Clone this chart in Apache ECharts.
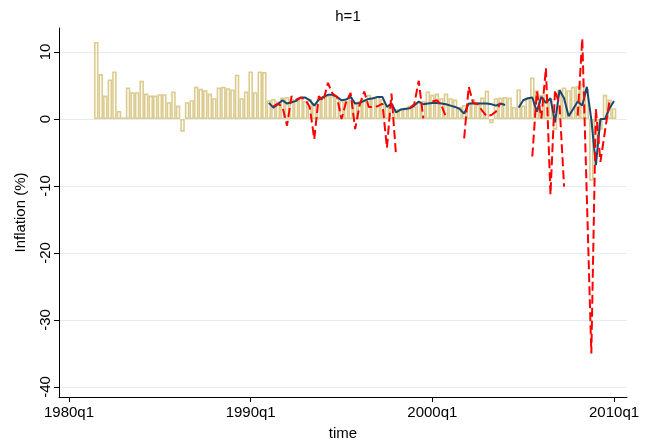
<!DOCTYPE html>
<html>
<head>
<meta charset="utf-8">
<script src="https://cdn.jsdelivr.net/npm/echarts@6/dist/echarts.min.js"></script>
<style>
  html, body { margin: 0; padding: 0; background: #fff; }
  #chart { width: 660px; height: 446px; }
</style>
</head>
<body>
<div id="chart"></div>
<script>
// time is counted in quarters since 1980q1 (0 = 1980q1)
const barStart = 6;   // 1981q3
const lineStart = 44; // 1991q1

// observed inflation, bars
const barValues = [
  11.5, 6.7, 3.5, 5.9, 7.1, 1.2, 0.25, 4.7, 4.0, 4.0,
  5.7, 3.8, 3.5, 3.5, 3.7, 3.7, 2.5, 4.1, 2.0, -1.9,
  2.5, 2.8, 4.8, 4.5, 4.3, 3.8, 3.1, 4.7, 4.8, 4.6,
  4.4, 6.6, 3.1, 4.1, 7.1, 4.0, 7.1, 7.0, 2.8, 3.0,
  2.6, 3.2, 3.3, 3.0, 2.8, 3.2, 2.7, 3.0, 2.3, 3.0,
  3.2, 3.5, 3.4, 3.1, 2.9, 2.7, 3.3, 2.5, 2.7, 3.0,
  3.6, 3.2, 3.4, 3.0, 2.2, 1.9, 1.5, 1.4, 1.7, 2.0,
  1.9, 2.5, 2.7, 4.1, 3.6, 3.8, 3.1, 3.8, 3.1, 2.9,
  1.8, 2.1, 2.4, 3.0, 2.5, 3.2, 4.2, -0.65, 3.1, 3.2,
  3.3, 3.2, 1.8, 4.4, 2.0, 3.1, 6.2, 4.3, 3.6, 3.7,
  3.0, -1.6, 4.4, 4.7, 4.3, 4.8, 4.9, 5.3, 4.5, -9.2,
  -4.1, -1.6, 3.6, 2.9, 1.6
];

// forecast h=1, solid navy line
const blueValues = [
  2.4, 1.7, 2.2, 2.8, 2.3, 2.5, 2.7, 3.2, 3.2, 2.8,
  2.0, 2.9, 3.3, 3.6, 3.6, 3.3, 2.8, 2.9, 3.3, 2.3,
  2.4, 2.7, 3.0, 3.1, 3.3, 3.3, 1.8, 2.3, 1.0, 1.4,
  1.5, 1.6, 2.0, 2.6, 2.2, 2.3, 2.4, 2.4, 2.3, 2.2,
  2.0, 1.8, 1.5, 0.8, 2.3, 2.3, 2.3, 2.3, 2.3, 2.2,
  2.0, 2.3, 2.1, null, null, 1.7, 2.8, 3.1, 3.2, 1.1,
  3.3, 2.4, 3.1, -0.5, 4.3, 3.1, 0.4, 1.5, 2.6, 2.0,
  4.8, -0.1, -6.9, 0.0, 0.0, 1.6, 2.7
];

// second forecast, red dashed line
const redValues = [
  null, 1.9, 2.3, 1.8, -1.0, 3.4, 2.9, 3.2, 2.9, 1.8,
  -3.0, 3.4, 2.7, 5.4, 3.8, 3.3, 0.0, 2.5, 3.9, -1.5,
  2.1, 4.1, 1.8, 1.8, 1.9, 2.3, -4.3, 3.8, -5.4, null,
  null, 1.6, 2.2, 5.7, 0.1, null, 2.6, 2.8, 2.0, 0.3,
  null, null, null, -2.9, 4.8, 2.4, 2.2, 1.2, 0.4, 0.6,
  1.1, 2.4, null, null, null, null, null, null, -5.6, 4.1,
  0.1, 7.6, -11.3, 4.3, 2.1, -10.1, null, null, 0.5, 12.0,
  -11.5, -35.0, 1.5, -6.4, -1.8, 2.7
];

const yTicks = [-40, -30, -20, -10, 0, 10];
const xTicks = [0, 40, 80, 120];

const toPairs = (start, arr) => arr.map((v, i) => [start + i, v]);
const quarterLabel = q => (1980 + Math.floor(q / 4)) + 'q' + (q % 4 + 1);

const chart = echarts.init(document.getElementById('chart'), null, { renderer: 'canvas' });
const font = 'Liberation Sans, Arial, sans-serif';

chart.setOption({
  animation: false,
  backgroundColor: '#fff',
  textStyle: { fontFamily: font },
  title: {
    text: 'h=1',
    left: 343,
    top: 4,
    textAlign: 'center',
    textStyle: { fontSize: 15, fontWeight: 'normal', color: '#000', fontFamily: font }
  },
  grid: { left: 59, right: 33, top: 28, bottom: 49, containLabel: false },
  xAxis: {
    type: 'value',
    min: -2.2,
    max: 122.85,
    name: 'time',
    nameLocation: 'middle',
    nameGap: 29,
    nameTextStyle: { fontSize: 15, color: '#000', fontFamily: font },
    axisLine: { show: true, onZero: false, lineStyle: { color: '#000', width: 1 } },
    axisTick: { show: true, length: 5, customValues: xTicks, lineStyle: { color: '#000' } },
    axisLabel: {
      customValues: xTicks,
      formatter: v => quarterLabel(v),
      fontSize: 15, color: '#000', margin: 8, fontFamily: font
    },
    splitLine: { show: false }
  },
  yAxis: {
    type: 'value',
    min: -41.49,
    max: 13.58,
    name: 'Inflation (%)',
    nameLocation: 'middle',
    nameGap: 31,
    nameTextStyle: { fontSize: 15, color: '#000', fontFamily: font },
    axisLine: { show: true, onZero: false, lineStyle: { color: '#000', width: 1 } },
    axisTick: { show: true, length: 5, customValues: yTicks, lineStyle: { color: '#000' } },
    axisLabel: {
      customValues: yTicks,
      rotate: 90,
      fontSize: 15, color: '#000', margin: 6, fontFamily: font
    },
    splitLine: { show: true, lineStyle: { color: '#e3ecf0', width: 1 } }
  },
  series: [
    {
      type: 'bar',
      data: toPairs(barStart, barValues),
      barWidth: 4.5,
      itemStyle: { color: 'rgba(255,255,255,0)', borderColor: '#dccb8e', borderWidth: 1.6 },
      z: 2
    },
    {
      type: 'line',
      data: toPairs(lineStart, blueValues),
      showSymbol: false,
      connectNulls: false,
      lineStyle: { color: '#1a476f', width: 2 },
      z: 3
    },
    {
      type: 'line',
      data: toPairs(lineStart, redValues),
      showSymbol: false,
      connectNulls: false,
      lineStyle: { color: '#ff0000', width: 2, type: [9, 4] },
      z: 4
    }
  ]
});
</script>
</body>
</html>
